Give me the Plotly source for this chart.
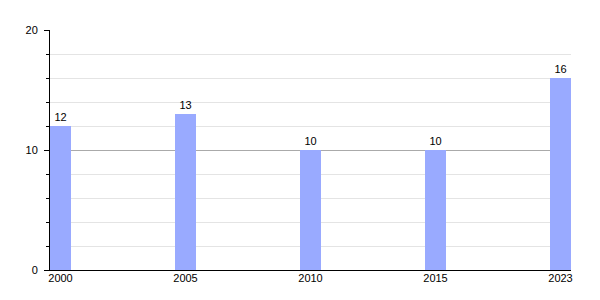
import plotly.graph_objects as go

years = ["2000", "2005", "2010", "2015", "2023"]
values = [12, 13, 10, 10, 16]

positions = list(range(len(years)))

fig = go.Figure()
fig.add_trace(go.Bar(
    x=positions,
    y=values,
    width=0.168,
    marker=dict(color="#99aaff", line=dict(width=0)),
    text=[str(v) for v in values],
    textposition="outside",
    textfont=dict(family="Liberation Sans, Arial, sans-serif", size=11, color="black"),
    cliponaxis=False,
))

fig.update_layout(
    width=600, height=300,
    margin=dict(l=50, r=29, t=30, b=30),
    paper_bgcolor="white",
    plot_bgcolor="white",
    showlegend=False,
    font=dict(family="Liberation Sans, Arial, sans-serif", size=11, color="black"),
    xaxis=dict(
        range=[-0.084, len(years) - 1 + 0.084],
        tickmode="array",
        tickvals=positions,
        ticktext=years,
        showgrid=False,
        zeroline=False,
        showline=True,
        linecolor="black",
        linewidth=1,
        ticks="",
        ticklen=0,
        ticklabelstandoff=-2,
        tickfont=dict(size=11, color="black"),
    ),
    yaxis=dict(
        range=[0, 20],
        dtick=10,
        tick0=0,
        showgrid=True,
        gridcolor="#aaaaaa",
        gridwidth=1,
        zeroline=False,
        showline=True,
        linecolor="black",
        linewidth=1,
        ticks="outside",
        ticklen=5,
        tickcolor="black",
        ticklabelstandoff=4,
        tickfont=dict(size=11, color="black"),
        minor=dict(
            dtick=2,
            showgrid=True,
            gridcolor="#e4e4e4",
            gridwidth=1,
            ticks="outside",
            ticklen=3,
            tickcolor="black",
        ),
    ),
)

fig.write_html("out.html")
